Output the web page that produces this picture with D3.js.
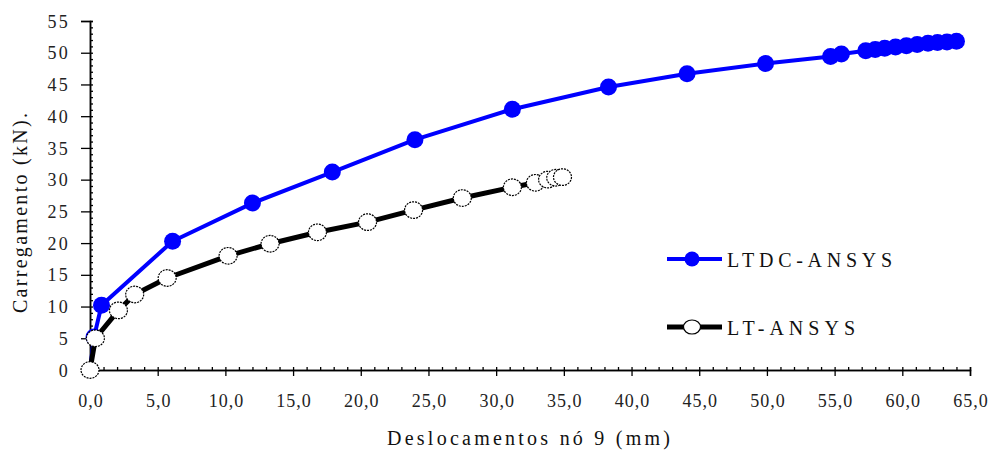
<!DOCTYPE html>
<html><head><meta charset="utf-8">
<script src="https://cdn.jsdelivr.net/npm/d3@7"></script>
<style>body{margin:0;background:#fff}svg{display:block}</style>
</head><body>
<script>
const xTicks = [0,5,10,15,20,25,30,35,40,45,50,55,60,65];
const yTicks = [0,5,10,15,20,25,30,35,40,45,50,55];
const ltdcX = [0,0.3,0.85,6.1,12.0,17.9,24.0,31.2,38.3,44.1,49.9,54.7,55.5,57.3,58.0,58.7,59.5,60.3,61.1,61.9,62.6,63.3,64.0];
const ltdcY = [0,5.2,10.2,20.3,26.3,31.2,36.3,41.1,44.6,46.7,48.3,49.4,49.8,50.3,50.5,50.7,50.9,51.1,51.3,51.5,51.6,51.7,51.8];
const ltX = [0,0.4,2.1,3.3,5.7,10.2,13.3,16.8,20.5,23.9,27.5,31.2,32.9,33.8,34.4,34.9];
const ltY = [0,5.0,9.4,11.9,14.5,18.0,19.9,21.7,23.3,25.2,27.1,28.8,29.5,30.0,30.3,30.4];
const seriesNames = ["LTDC-ANSYS","LT-ANSYS"];

const W=988,H=451;
const svg=d3.select("body").append("svg").attr("width",W).attr("height",H);
const x=d3.scaleLinear().domain([0,65]).range([90,970]);
const y=d3.scaleLinear().domain([0,55]).range([370,21]);
const font="'Liberation Serif','Times New Roman',serif";

// axes
const gx=svg.append("g").attr("transform","translate(0,370)");
gx.call(d3.axisBottom(x).tickValues(xTicks).tickSize(6).tickFormat(d=>d3.format(".1f")(d).replace(".",",")).tickPadding(21));
gx.append("g").call(d3.axisTop(x).tickValues(d3.range(0,66,1)).tickSize(3).tickFormat(""));
const gy=svg.append("g").attr("transform","translate(90,0)");
gy.call(d3.axisLeft(y).tickValues(yTicks).tickSize(9).tickPadding(11));
gy.append("g").call(d3.axisRight(y).tickValues(d3.range(0,56,1)).tickSize(3).tickFormat(""));
svg.selectAll(".domain").attr("stroke","#000").attr("stroke-width",1.5);
svg.selectAll(".tick line").attr("stroke","#000").attr("stroke-width",1.3);
svg.selectAll(".tick text").attr("font-family",font).attr("font-size",18).attr("fill","#222");
gx.selectAll(".tick text").attr("letter-spacing",1).attr("dy","0.55em").attr("dx","0.5px");
gy.selectAll(".tick text").attr("letter-spacing",2.2).attr("dy","0.34em");

// titles
svg.append("text").attr("x",387).attr("y",445)
  .attr("font-family",font).attr("font-size",20).attr("textLength",283).attr("lengthAdjust","spacing").attr("fill","#111")
  .text("Deslocamentos nó 9 (mm)");
svg.append("text").attr("transform","translate(27,313) rotate(-90)")
  .attr("font-family",font).attr("font-size",20).attr("textLength",200).attr("lengthAdjust","spacing").attr("fill","#111")
  .text("Carregamento (kN).");

const line=d3.line().x(d=>x(d[0])).y(d=>y(d[1]));
const blue=ltdcX.map((v,i)=>[v,ltdcY[i]]);
const black=ltX.map((v,i)=>[v,ltY[i]]);

svg.append("path").datum(blue).attr("d",line).attr("fill","none").attr("stroke","#0000ff").attr("stroke-width",4).attr("stroke-linejoin","round");
svg.selectAll(".bpt").data(blue.slice(1)).enter().append("circle").attr("cx",d=>x(d[0])).attr("cy",d=>y(d[1])).attr("r",8.5).attr("fill","#0000ff");

svg.append("path").datum(black).attr("d",line).attr("fill","none").attr("stroke","#000").attr("stroke-width",5).attr("stroke-linejoin","round");
svg.selectAll(".kpt").data(black).enter().append("ellipse").attr("cx",d=>x(d[0])).attr("cy",d=>y(d[1])).attr("rx",9).attr("ry",8.3)
  .attr("fill","#fff").attr("stroke","#000").attr("stroke-width",1.2).attr("stroke-dasharray","2,1");

// legend
const leg=[{y:259,c:"#0000ff",fill:"#0000ff",sw:4,len:165},{y:327,c:"#000",fill:"#fff",sw:5,len:128}];
leg.forEach((l,i)=>{
  svg.append("line").attr("x1",667).attr("x2",722).attr("y1",l.y).attr("y2",l.y).attr("stroke",l.c).attr("stroke-width",l.sw);
  if(i===0) svg.append("circle").attr("cx",692).attr("cy",l.y).attr("r",7.5).attr("fill",l.fill);
  else svg.append("ellipse").attr("cx",692).attr("cy",l.y).attr("rx",8.5).attr("ry",7).attr("fill","#fff").attr("stroke","#000").attr("stroke-width",1.2);
  svg.append("text").attr("x",727).attr("y",l.y+8).attr("font-family",font).attr("font-size",20)
    .attr("textLength",l.len).attr("lengthAdjust","spacing").attr("fill","#111").text(seriesNames[i]);
});
</script>
</body></html>
